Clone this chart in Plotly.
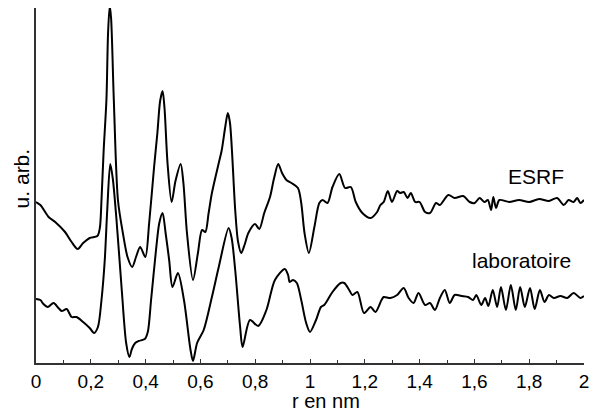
import plotly.graph_objects as go

# r in nm, intensity in arbitrary units
r_esrf = [0.0, 0.016, 0.046, 0.070, 0.106, 0.130, 0.152, 0.172, 0.196, 0.224, 0.233, 0.239,
          0.247, 0.257, 0.263, 0.269, 0.274, 0.284, 0.299, 0.317, 0.334, 0.351, 0.365, 0.380,
          0.399, 0.413, 0.431, 0.443, 0.453, 0.462, 0.469, 0.480, 0.495, 0.509, 0.528, 0.538,
          0.551, 0.573, 0.591, 0.606, 0.618, 0.630, 0.642, 0.667, 0.678, 0.690, 0.700, 0.708,
          0.727, 0.737, 0.749, 0.761, 0.775, 0.799, 0.815, 0.833, 0.854, 0.869, 0.884, 0.898,
          0.914, 0.932, 0.956, 0.968, 0.980, 0.996, 1.016, 1.034, 1.046, 1.064, 1.082, 1.107,
          1.128, 1.149, 1.167, 1.191, 1.221, 1.245, 1.257, 1.269, 1.284, 1.299, 1.318, 1.329,
          1.342, 1.356, 1.368, 1.384, 1.400, 1.420, 1.438, 1.460, 1.474, 1.505, 1.528, 1.559,
          1.583, 1.601, 1.619, 1.637, 1.649, 1.661, 1.669, 1.679, 1.691, 1.727, 1.763, 1.800,
          1.836, 1.872, 1.902, 1.926, 1.944, 1.962, 1.975, 1.987, 2.0]
i_esrf = [161, 158, 146, 141, 131, 121, 114, 120, 125, 127, 135, 163,
          213, 263, 330, 357, 345, 263, 163, 130, 106, 96, 106, 116,
          106, 140, 196, 230, 262, 272, 255, 200, 161, 182, 199, 180,
          130, 83, 110, 133, 131, 150, 170, 200, 213, 235, 250, 240,
          153, 122, 110, 118, 130, 139, 134, 150, 166, 185, 199, 190,
          183, 180, 175, 160, 130, 110, 136, 160, 163, 160, 176, 189,
          175, 176, 161, 150, 145, 151, 158, 161, 172, 161, 172, 170,
          171, 165, 170, 161, 161, 151, 150, 160, 158, 168, 165, 167,
          161, 160, 165, 161, 163, 153, 166, 155, 163, 161, 163, 161,
          164, 162, 165, 158, 163, 161, 165, 160, 163]

r_labo = [0.0, 0.016, 0.027, 0.043, 0.064, 0.082, 0.094, 0.112, 0.130, 0.148, 0.172, 0.196,
          0.212, 0.226, 0.239, 0.251, 0.260, 0.271, 0.280, 0.293, 0.313, 0.329, 0.341, 0.350,
          0.362, 0.375, 0.397, 0.408, 0.420, 0.438, 0.450, 0.462, 0.473, 0.486, 0.498, 0.518,
          0.540, 0.564, 0.573, 0.588, 0.612, 0.642, 0.667, 0.703, 0.714, 0.727, 0.745, 0.754,
          0.781, 0.811, 0.841, 0.872, 0.908, 0.920, 0.926, 0.938, 0.952, 0.968, 0.986, 1.000,
          1.022, 1.040, 1.052, 1.082, 1.112, 1.125, 1.143, 1.155, 1.173, 1.197, 1.221, 1.239,
          1.261, 1.269, 1.293, 1.318, 1.342, 1.360, 1.378, 1.396, 1.420, 1.438, 1.456, 1.474,
          1.492, 1.510, 1.528, 1.553, 1.577, 1.595, 1.607, 1.625, 1.639, 1.651, 1.667, 1.683,
          1.697, 1.715, 1.733, 1.751, 1.767, 1.784, 1.803, 1.820, 1.839, 1.856, 1.872, 1.890,
          1.914, 1.939, 1.962, 1.987, 2.0]
i_labo = [64, 63, 59, 56, 60, 55, 52, 54, 46, 46, 41, 35,
          30, 36, 63, 103, 153, 199, 185, 146, 73, 20, 6, 14,
          20, 22, 24, 31, 63, 113, 140, 150, 130, 103, 76, 90,
          63, 13, 2, 20, 33, 66, 96, 135, 125, 93, 36, 16,
          43, 37, 53, 83, 94, 88, 81, 83, 80, 63, 40, 31,
          43, 56, 58, 71, 80, 80, 73, 68, 71, 50, 56, 51,
          63, 66, 65, 68, 75, 65, 60, 70, 58, 60, 53, 65,
          73, 60, 68, 67, 66, 63, 68, 58, 65, 57, 73, 56,
          76, 53, 78, 53, 76, 56, 75, 54, 73, 61, 68, 65,
          67, 65, 70, 65, 67]

tick_vals = [0, 0.2, 0.4, 0.6, 0.8, 1.0, 1.2, 1.4, 1.6, 1.8, 2.0]
tick_text = ["0", "0,2", "0,4", "0,6", "0,8", "1", "1,2", "1,4", "1,6", "1,8", "2"]

font = "Liberation Sans, Arial, Helvetica, sans-serif"

fig = go.Figure()
for r, i in [(r_esrf, i_esrf), (r_labo, i_labo)]:
    fig.add_trace(go.Scatter(x=r, y=i, mode="lines",
                             line=dict(color="black", width=2, shape="spline", smoothing=0.8),
                             cliponaxis=False, showlegend=False, hoverinfo="skip"))

fig.update_layout(
    width=596, height=411,
    margin=dict(l=36, r=7, t=8, b=48),
    plot_bgcolor="white", paper_bgcolor="white",
    font=dict(family=font, size=20, color="black"),
    xaxis=dict(range=[0, 2], tickvals=tick_vals, ticktext=tick_text,
               showgrid=False, zeroline=False, showline=True, linecolor="#333", linewidth=1.5,
               ticks="inside", ticklen=4, tickcolor="#333", tickwidth=1,
               minor=dict(ticks="inside", ticklen=3, dtick=0.1, tickcolor="#333", tickwidth=1),
               tickfont=dict(size=19)),
    yaxis=dict(range=[0, 355], showgrid=False, zeroline=False, showticklabels=False,
               showline=True, linecolor="#333", linewidth=1.5, ticks=""),
    annotations=[
        dict(text="u. arb.", xref="paper", yref="paper", x=0, y=0.52, xshift=-15,
             xanchor="center", yanchor="middle", textangle=-90, showarrow=False,
             font=dict(size=21)),
        dict(text="r en nm", xref="x", yref="paper", x=1.06, y=0, yshift=-38,
             yanchor="middle", showarrow=False, font=dict(size=20)),
        dict(text="ESRF", x=1.826, y=187, showarrow=False, font=dict(size=21)),
        dict(text="laboratoire", x=1.773, y=103, showarrow=False, font=dict(size=21)),
    ],
)

# page body has a default 8px margin; drop it so the figure fills the window
fig.write_html("out.html", config={"displayModeBar": False},
               post_script="document.body.style.margin='0';")
